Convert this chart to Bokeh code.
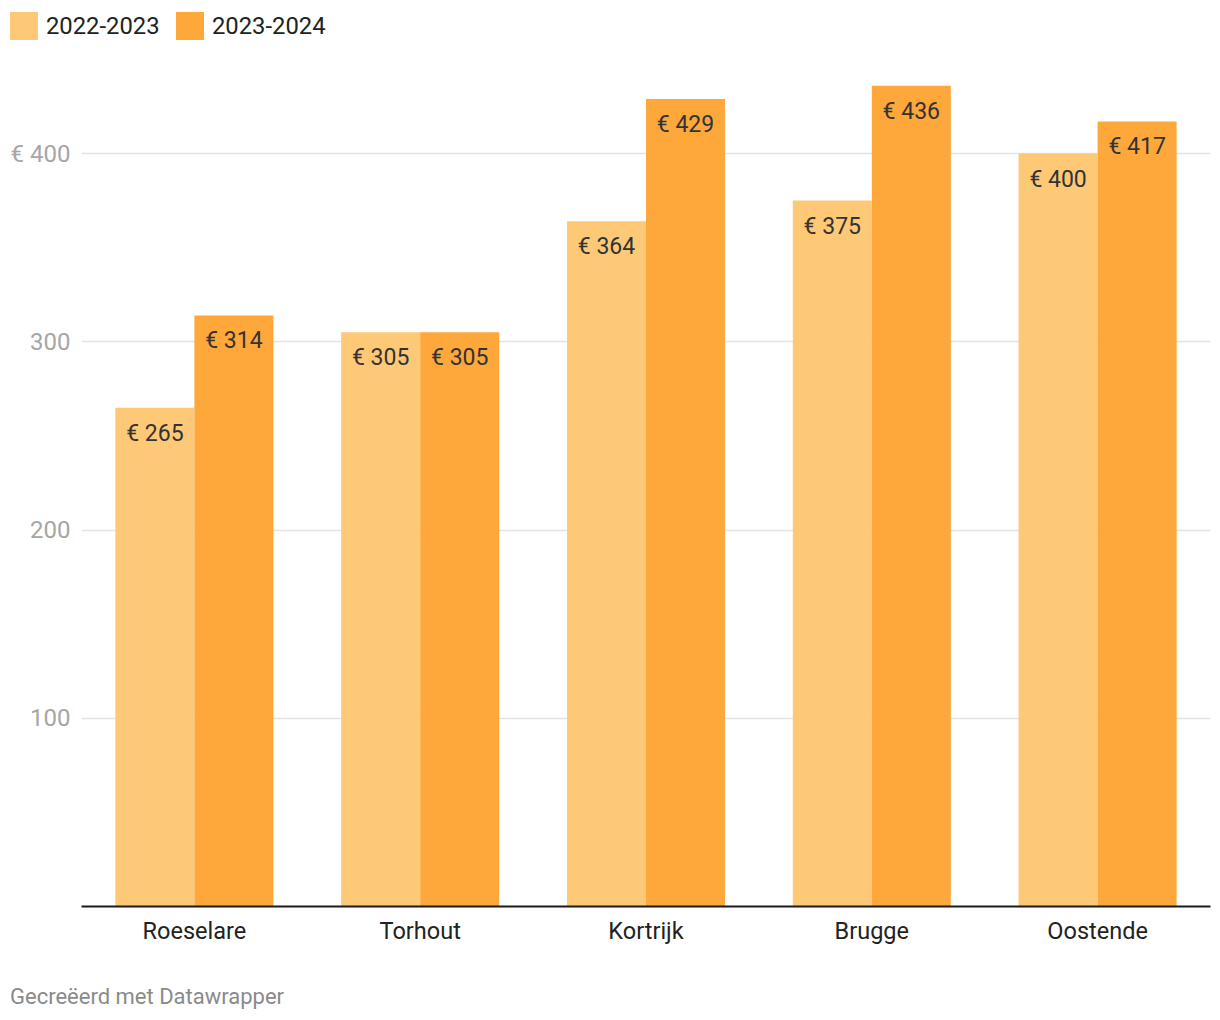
from bokeh.plotting import figure
from bokeh.models import ColumnDataSource, FactorRange, Range1d, FixedTicker, Div
from bokeh.layouts import column
from bokeh.transform import dodge
from bokeh.embed import file_html
from bokeh.resources import INLINE

cities = ["Roeselare", "Torhout", "Kortrijk", "Brugge", "Oostende"]
series_names = ["2022-2023", "2023-2024"]
values_2223 = [265, 305, 364, 375, 400]
values_2324 = [314, 305, 429, 436, 417]
y_ticks = [100, 200, 300, 400]
y_tick_labels = ["100", "200", "300", "€ 400"]
footer_text = "Gecreëerd met Datawrapper"

colors = ["#fec977", "#fea73b"]
FONT = "Roboto"

src = ColumnDataSource(data=dict(
    city=cities,
    v1=values_2223,
    v2=values_2324,
    l1=["€ %d" % v for v in values_2223],
    l2=["€ %d" % v for v in values_2324],
))

W = 1212
LEG_H = 66          # legend strip height
FL, FR = 81, 1210   # frame left/right in px
FRAME_H = 840
BOTTOM = 50
FOOT_H = 60

p = figure(
    width=W, height=FRAME_H + BOTTOM,
    x_range=FactorRange(*cities, range_padding=0),
    y_range=Range1d(0, FRAME_H / 1.8825),
    output_backend="svg", toolbar_location=None,
    min_border_left=FL, min_border_right=W - FR, min_border_top=0, min_border_bottom=BOTTOM,
    margin=0,
)
p.outline_line_color = None
p.background_fill_color = "white"
p.border_fill_color = "white"

bw = 0.35
p.vbar(x=dodge("city", -bw / 2, range=p.x_range), top="v1", width=bw, source=src,
       fill_color=colors[0], line_color=None)
p.vbar(x=dodge("city", bw / 2, range=p.x_range), top="v2", width=bw, source=src,
       fill_color=colors[1], line_color=None)

for col, off in (("l1", -bw / 2), ("l2", bw / 2)):
    ycol = "v1" if col == "l1" else "v2"
    p.text(x=dodge("city", off, range=p.x_range), y=ycol, text=col, source=src,
           text_align="center", text_baseline="top", y_offset=12,
           text_font_size="23px", text_color="#333333", text_font={"value": FONT})

# axes
p.xgrid.grid_line_color = None
p.ygrid.grid_line_color = "#e3e3e3"
p.ygrid.grid_line_width = 1.5
p.yaxis.ticker = FixedTicker(ticks=y_ticks)
p.ygrid.ticker = FixedTicker(ticks=y_ticks)
p.yaxis.major_label_overrides = {t: l for t, l in zip(y_ticks, y_tick_labels)}
p.yaxis.axis_line_color = None
p.yaxis.major_tick_line_color = None
p.yaxis.minor_tick_line_color = None
p.yaxis.major_label_standoff = 5
p.yaxis.major_label_text_font = FONT
p.yaxis.major_label_text_font_size = "24px"
p.yaxis.major_label_text_color = "#a6a6a6"

p.xaxis.axis_line_color = "#1a1a1a"
p.xaxis.axis_line_width = 2
p.xaxis.major_tick_line_color = None
p.xaxis.minor_tick_line_color = None
p.xaxis.major_label_standoff = 4
p.xaxis.major_label_text_font = FONT
p.xaxis.major_label_text_font_size = "23.5px"
p.xaxis.major_label_text_color = "#222222"

# legend strip
leg_x = [10, 176]
parts = []
for i, name in enumerate(series_names):
    parts.append(
        '<span style="position:absolute;left:%dpx;top:12px;width:28px;height:28px;'
        'background:%s"></span>' % (leg_x[i], colors[i]))
    parts.append(
        '<span style="position:absolute;left:%dpx;top:12px;height:28px;line-height:28px;'
        'white-space:nowrap">%s</span>' % (leg_x[i] + 36, name))
legend_div = Div(
    text='<div style="position:relative;width:%dpx;height:%dpx;font-family:Roboto;'
         'font-size:23.8px;color:#222222">%s</div>' % (W, LEG_H, "".join(parts)),
    width=W, height=LEG_H, margin=0,
)

footer_div = Div(
    text='<div style="position:relative;width:%dpx;height:%dpx;font-family:Roboto;'
         'font-size:22px;color:#8a8a8a"><span style="position:absolute;left:10px;top:29px;'
         'line-height:24px;white-space:nowrap">%s</span></div>' % (W, FOOT_H, footer_text),
    width=W, height=FOOT_H, margin=0,
)

layout = column(legend_div, p, footer_div, spacing=0)
open("out.html", "w").write(file_html(layout, INLINE))
